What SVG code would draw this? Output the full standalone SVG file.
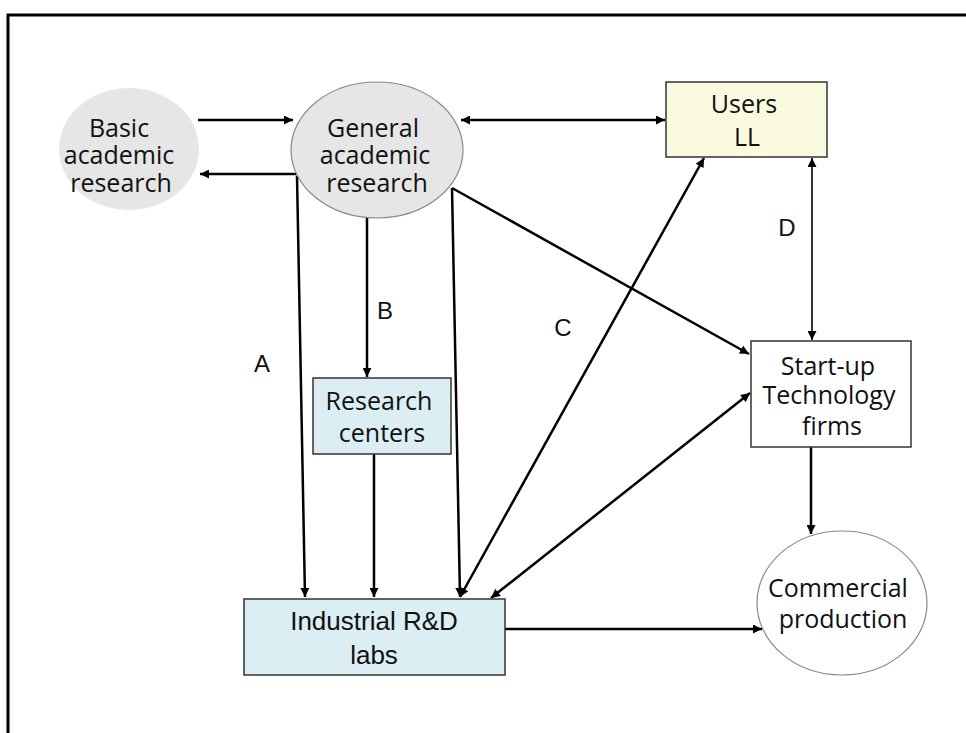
<svg xmlns="http://www.w3.org/2000/svg" width="966" height="733" viewBox="0 0 966 733">
  <style>
    .lbl { font-family: "Open Sans", "Noto Sans", sans-serif; font-size: 25px; fill: #111; text-anchor: middle; }
    .arial { font-family: "Liberation Sans", Arial, sans-serif; fill: #111; text-anchor: middle; }
    .edge { stroke: #000; stroke-width: 2.5; fill: none; }
    .thin { stroke: #000; stroke-width: 1.6; fill: none; }
    .box { stroke: #333; stroke-width: 1.5; }
  </style>
  <defs>
    <marker id="head" viewBox="0 0 10 10" refX="10" refY="5" markerWidth="11" markerHeight="9" markerUnits="userSpaceOnUse" orient="auto-start-reverse">
      <path d="M0,0 L10,5 L0,10 z" fill="#000"/>
    </marker>
  </defs>

  <rect width="966" height="733" fill="#fff"/>
  <!-- outer frame: top and left edges -->
  <path d="M8,733 V15 H966" fill="none" stroke="#000" stroke-width="3"/>

  <g id="connectors">
    <line class="edge" x1="198" y1="120" x2="293" y2="120" marker-end="url(#head)"/>
    <line class="edge" x1="300" y1="174" x2="200" y2="174" marker-end="url(#head)"/>
    <line class="edge" x1="461" y1="120" x2="665" y2="120" marker-start="url(#head)" marker-end="url(#head)"/>
    <line class="edge" x1="297" y1="176" x2="305" y2="597" marker-end="url(#head)"/>
    <line class="edge" x1="367" y1="218" x2="367" y2="377" marker-end="url(#head)"/>
    <line class="edge" x1="374" y1="454" x2="374" y2="597" marker-end="url(#head)"/>
    <line class="edge" x1="452" y1="188" x2="460" y2="597" marker-end="url(#head)"/>
    <line class="edge" x1="452" y1="188" x2="749" y2="354" marker-end="url(#head)"/>
    <line class="edge" x1="460" y1="597" x2="704" y2="158" marker-start="url(#head)" marker-end="url(#head)"/>
    <line class="edge" x1="491" y1="598" x2="750" y2="393" marker-start="url(#head)" marker-end="url(#head)"/>
    <line class="thin" x1="812" y1="158" x2="812" y2="340" marker-start="url(#head)" marker-end="url(#head)"/>
    <line class="edge" x1="811" y1="447" x2="811" y2="534" marker-end="url(#head)"/>
    <line class="edge" x1="505" y1="629" x2="762" y2="629" marker-end="url(#head)"/>
    <text class="arial" font-size="24" x="262" y="372">A</text>
    <text class="arial" font-size="24" x="385" y="319">B</text>
    <text class="arial" font-size="24" x="563" y="336">C</text>
    <text class="arial" font-size="24" x="787" y="236">D</text>
  </g>

  <g id="basic">
    <ellipse cx="129" cy="149" rx="70" ry="61" fill="#e6e6e6"/>
    <text class="lbl" x="119" y="137">Basic</text>
    <text class="lbl" x="119" y="164">academic</text>
    <text class="lbl" x="121" y="192">research</text>
  </g>

  <g id="general">
    <ellipse cx="377" cy="150" rx="86" ry="68" fill="#e6e6e6" stroke="#888" stroke-width="1.2"/>
    <text class="lbl" x="373" y="137">General</text>
    <text class="lbl" x="375" y="164">academic</text>
    <text class="lbl" x="377" y="192">research</text>
  </g>

  <g id="users">
    <rect class="box" x="666" y="82" width="161" height="75" fill="#fafade"/>
    <text class="lbl" x="744" y="113">Users</text>
    <text class="lbl" x="747" y="146">LL</text>
  </g>

  <g id="research-centers">
    <rect class="box" x="313" y="378" width="138" height="76" fill="#dbeef3"/>
    <text class="lbl" x="379" y="410">Research</text>
    <text class="lbl" x="382" y="442">centers</text>
  </g>

  <g id="startup">
    <rect class="box" x="751" y="341" width="160" height="106" fill="#fff"/>
    <text class="lbl" x="828" y="375">Start-up</text>
    <text class="lbl" x="829" y="404">Technology</text>
    <text class="lbl" x="832" y="435">firms</text>
  </g>

  <g id="industrial">
    <rect class="box" x="244" y="599" width="261" height="76" fill="#dbeef3"/>
    <text class="arial" font-size="26" x="374" y="630">Industrial R&amp;D</text>
    <text class="arial" font-size="26" x="374" y="664">labs</text>
  </g>

  <g id="commercial">
    <ellipse cx="842" cy="603" rx="85" ry="72" fill="#fff" stroke="#888" stroke-width="1.2"/>
    <text class="lbl" x="838" y="597">Commercial</text>
    <text class="lbl" x="843" y="628">production</text>
  </g>
</svg>
